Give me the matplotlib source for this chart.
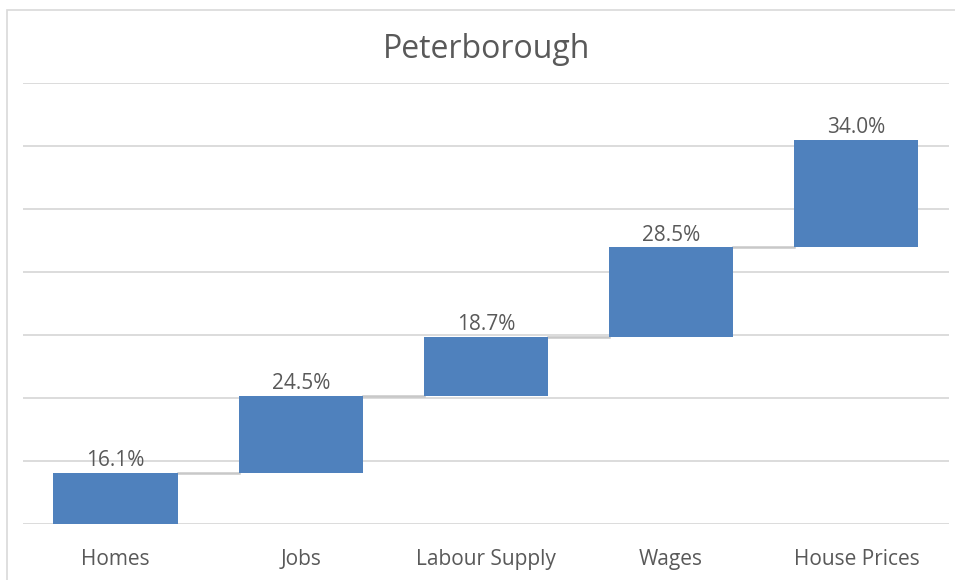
import matplotlib
matplotlib.use("Agg")
import matplotlib.pyplot as plt
from matplotlib.patches import Rectangle
import numpy as np

plt.rcParams['font.family'] = ['Open Sans', 'DejaVu Sans']

# data
categories = ['Homes', 'Jobs', 'Labour Supply', 'Wages', 'House Prices']
changes = [16.1, 24.5, 18.7, 28.5, 34.0]
value_labels = ['16.1%', '24.5%', '18.7%', '28.5%', '34.0%']

bar_color = '#4F81BD'
text_color = '#595959'
grid_color = '#D9D9D9'

fig = plt.figure(figsize=(9.55, 5.8), dpi=100)
ax = fig.add_axes([0.024, 0.0966, 0.9697, 0.7603])

# cumulative waterfall
tops = np.cumsum(changes)
bottoms = tops - np.array(changes)
x = np.arange(len(categories))
width = 0.67

ax.bar(x, changes, bottom=bottoms, width=width, color=bar_color, zorder=3)

# connector lines between bars
for i in range(len(categories) - 1):
    ax.plot([x[i] + width / 2, x[i + 1] - width / 2], [tops[i], tops[i]],
            color='#C8C8C8', linewidth=1.8, zorder=2)

for xi, top, lab in zip(x, tops, value_labels):
    ax.text(xi, top + 0.6, lab, ha='center', va='bottom', fontsize=15, color=text_color)

ax.set_xlim(-0.5, len(categories) - 0.5)
ax.set_ylim(0, 140)
ax.set_yticks(np.arange(0, 141, 20))
ax.set_yticklabels([])
ax.tick_params(axis='y', length=0)
ax.tick_params(axis='x', length=0, pad=18, labelsize=15, labelcolor=text_color)
ax.set_xticks(x)
ax.set_xticklabels(categories)
ax.grid(axis='y', color=grid_color, linewidth=1.3, zorder=0)
for s in ax.spines.values():
    s.set_visible(False)

fig.text(487 / 955, 1 - 50 / 580, 'Peterborough', ha='center', va='center',
         fontsize=23, color=text_color)

# chart area border
fig.patches.append(Rectangle((7 / 955, -0.01), 1.0, 1 - 10 / 580 + 0.01,
                             transform=fig.transFigure, fill=False,
                             edgecolor='#D9D9D9', linewidth=1.2))

fig.savefig('out.png', dpi=100)
